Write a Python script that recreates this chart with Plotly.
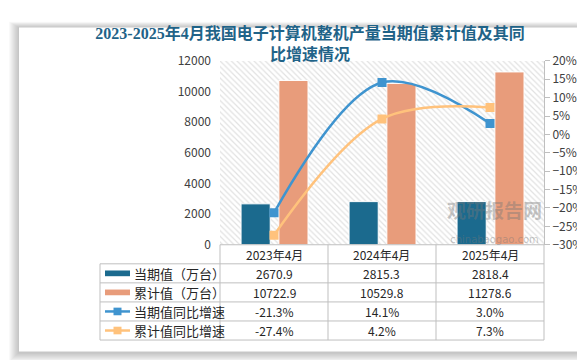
import plotly.graph_objects as go

categories = ["2023年4月", "2024年4月", "2025年4月"]
cur_values = [2670.9, 2815.3, 2818.4]          # 当期值（万台）
cum_values = [10722.9, 10529.8, 11278.6]       # 累计值（万台）
cur_growth = [-21.3, 14.1, 3.0]                # 当期值同比增速 %
cum_growth = [-27.4, 4.2, 7.3]                 # 累计值同比增速 %

series_names = ["当期值（万台）", "累计值（万台）", "当期值同比增速", "累计值同比增速"]
title_text = "2023-2025年4月我国电子计算机整机产量当期值累计值及其同<br>比增速情况"

W, H = 585, 360
C_CUR = "#1B6A8E"
C_CUM = "#E89C7B"
C_LCUR = "#3F94CF"
C_LCUM = "#FFC27C"
GRID = "#bfbfbf"
CJK = "Noto Sans CJK SC"


def px(x):
    return x / W


def py(y):
    return 1 - y / H


n = len(categories)
idx = list(range(n))

# plot area in pixels
PL, PR, PT, PB = 212, 536, 45, 238

fig = go.Figure()

# hatched plot background
fig.add_trace(go.Bar(
    x=[(n - 1) / 2], y=[12000], width=[n], yaxis="y",
    marker=dict(color="white", line=dict(width=0),
                pattern=dict(shape="\\", fgcolor="#c4c4c4", bgcolor="white",
                             size=4, solidity=0.3)),
    hoverinfo="skip", showlegend=False))

fig.add_trace(go.Bar(
    x=idx, y=cur_values, name=series_names[0], offset=-0.305, width=0.27,
    marker=dict(color=C_CUR, line=dict(color="white", width=1)), showlegend=False))
fig.add_trace(go.Bar(
    x=idx, y=cum_values, name=series_names[1], offset=0.045, width=0.27,
    marker=dict(color=C_CUM, line=dict(color="white", width=1)), showlegend=False))

fig.add_trace(go.Scatter(
    x=idx, y=cur_growth, name=series_names[2], yaxis="y2", mode="lines+markers",
    line=dict(color=C_LCUR, width=2.5, shape="spline", smoothing=1.0),
    marker=dict(symbol="square", size=9, color=C_LCUR), showlegend=False))
fig.add_trace(go.Scatter(
    x=idx, y=cum_growth, name=series_names[3], yaxis="y2", mode="lines+markers",
    line=dict(color=C_LCUM, width=2.5, shape="spline", smoothing=1.0),
    marker=dict(symbol="square", size=9, color=C_LCUM), showlegend=False))

shapes = []
# card shadow
for k in range(10, 0, -1):
    shapes.append(dict(type="rect", xref="paper", yref="paper", layer="below",
                       x0=px(11 - k), x1=px(577 + k), y0=py(350 + k + 1), y1=py(10 - k * 0.6),
                       fillcolor="rgba(0,0,0,0.022)", line=dict(width=0)))
shapes.append(dict(type="rect", xref="paper", yref="paper", layer="below",
                   x0=px(11), x1=px(577), y0=py(350), y1=py(10),
                   fillcolor="white", line=dict(width=0)))

# table grid
row_y = [238, 258, 278, 298, 318, 338]
col_x = [92, 212, 320, 428, 536]
for i, yy in enumerate(row_y):
    x0 = 212 if i == 0 else 92
    shapes.append(dict(type="line", xref="paper", yref="paper", x0=px(x0), x1=px(536),
                       y0=py(yy), y1=py(yy), line=dict(color=GRID, width=1)))
for j, xx in enumerate(col_x):
    y0 = 258 if j == 0 else 238
    shapes.append(dict(type="line", xref="paper", yref="paper", x0=px(xx), x1=px(xx),
                       y0=py(y0), y1=py(338), line=dict(color=GRID, width=1)))

# legend symbols in the table
sym_colors = [C_CUR, C_CUM, C_LCUR, C_LCUM]
for r in range(4):
    yc = (row_y[r + 1] + row_y[r + 2]) / 2
    if r < 2:
        shapes.append(dict(type="rect", xref="paper", yref="paper", x0=px(97), x1=px(122),
                           y0=py(yc + 3), y1=py(yc - 3), fillcolor=sym_colors[r], line=dict(width=0)))
    else:
        shapes.append(dict(type="line", xref="paper", yref="paper", x0=px(97), x1=px(122),
                           y0=py(yc), y1=py(yc), line=dict(color=sym_colors[r], width=2.5)))
        shapes.append(dict(type="rect", xref="paper", yref="paper", x0=px(105.5), x1=px(113.5),
                           y0=py(yc + 4), y1=py(yc - 4), fillcolor=sym_colors[r], line=dict(width=0)))

annotations = []
# category header
for j, c in enumerate(categories):
    xc = (col_x[j + 1] + col_x[j + 2]) / 2
    annotations.append(dict(xref="paper", yref="paper", x=px(xc), y=py(248), text=c,
                            showarrow=False, font=dict(family=CJK, size=12, color="#262626"),
                            xanchor="center", yanchor="middle"))
rows = [
    [f"{v:.1f}" for v in cur_values],
    [f"{v:.1f}" for v in cum_values],
    [f"{v:.1f}%" for v in cur_growth],
    [f"{v:.1f}%" for v in cum_growth],
]
for r in range(4):
    yc = (row_y[r + 1] + row_y[r + 2]) / 2
    annotations.append(dict(xref="paper", yref="paper", x=px(124), y=py(yc), text=series_names[r],
                            showarrow=False, font=dict(family=CJK, size=13, color="#262626"),
                            xanchor="left", yanchor="middle"))
    for j in range(n):
        xc = (col_x[j + 1] + col_x[j + 2]) / 2
        annotations.append(dict(xref="paper", yref="paper", x=px(xc), y=py(yc), text=rows[r][j],
                                showarrow=False, font=dict(family=CJK, size=12, color="#262626"),
                                xanchor="center", yanchor="middle"))

# watermark (single text block)
annotations.append(dict(xref="paper", yref="paper", x=px(486), y=py(213),
                        text="<b>观研报告网</b><br><span style='font-size:10px;font-family:DejaVu Sans'>chinabaogao.com</span>",
                        showarrow=False, font=dict(family=CJK, size=19, color="rgba(120,120,120,0.42)"),
                        xanchor="center", yanchor="middle"))

fig.update_layout(
    width=W, height=H,
    margin=dict(l=0, r=0, t=0, b=0),
    paper_bgcolor="white",
    plot_bgcolor="rgba(0,0,0,0)",
    barmode="overlay",
    showlegend=False,
    title=dict(text=title_text, x=px(302), xanchor="center", y=py(31), yanchor="middle",
               font=dict(family="Liberation Serif, " + CJK, size=16, color="#1F6388", weight="bold")),
    xaxis=dict(domain=[px(PL), px(PR)], range=[-0.5, n - 0.5], showticklabels=False,
               showgrid=False, zeroline=False, showline=False, fixedrange=True),
    yaxis=dict(domain=[py(PB), py(PT)], range=[0, 12000], dtick=2000, tickformat="d",
               showgrid=False, zeroline=False, showline=False, ticks="", ticklabelstandoff=8,
               tickfont=dict(family=CJK, size=12, color="#404040")),
    yaxis2=dict(overlaying="y", side="right", range=[-30, 20], dtick=5, ticksuffix="%",
                showgrid=False, zeroline=False, showline=True, linecolor=GRID, linewidth=1,
                ticks="outside", ticklen=5, tickcolor=GRID, anchor="x",
                tickfont=dict(family=CJK, size=12, color="#404040")),
    shapes=shapes,
    annotations=annotations,
)

fig.write_html("out.html")
